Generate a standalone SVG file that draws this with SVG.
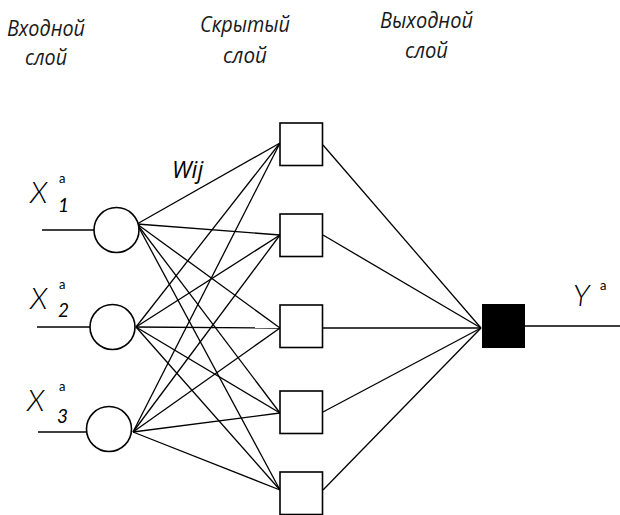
<svg xmlns="http://www.w3.org/2000/svg" width="620" height="515" viewBox="0 0 620 515">
<style>
.hdr{font-family:"Open Sans","Noto Sans",sans-serif;font-style:italic;font-size:21px;fill:#1a1a1a}
.var{font-family:"Lato","DejaVu Sans",sans-serif;font-weight:300;font-style:italic;font-size:30px;fill:#000}
.sup{font-family:"Lato","Liberation Sans",sans-serif;font-weight:400;font-size:13px;fill:#000}
.sub{font-family:"Lato","Liberation Sans",sans-serif;font-weight:400;font-style:italic;font-size:19px;fill:#000}
.wij{font-family:"Open Sans","Noto Sans",sans-serif;font-style:italic;font-size:23px;fill:#000}
.c{stroke:#000;stroke-width:1.3;fill:none}
.in{fill:#fff;stroke:#000;stroke-width:1.6}
.hid{fill:#fff;stroke:#000;stroke-width:1.6}
</style>
<rect width="620" height="515" fill="#fff"/>
<g id="headers">
<text class="hdr" x="7" y="36" textLength="78" lengthAdjust="spacingAndGlyphs">Входной</text>
<text class="hdr" x="25" y="65" textLength="42" lengthAdjust="spacingAndGlyphs">слой</text>
<text class="hdr" x="200" y="32" textLength="90" lengthAdjust="spacingAndGlyphs">Скрытый</text>
<text class="hdr" x="223" y="63" textLength="44" lengthAdjust="spacingAndGlyphs">слой</text>
<text class="hdr" x="380" y="28" textLength="93" lengthAdjust="spacingAndGlyphs">Выходной</text>
<text class="hdr" x="405" y="58" textLength="43" lengthAdjust="spacingAndGlyphs">слой</text>
</g>
<g id="connectors">
<line class="c" x1="42" y1="230" x2="94" y2="230"/>
<line class="c" x1="37" y1="327" x2="90" y2="327"/>
<line class="c" x1="38" y1="432" x2="87" y2="432"/>
<g id="input-hidden">
<line class="c" x1="137" y1="224" x2="280" y2="143"/>
<line class="c" x1="137" y1="224" x2="280" y2="235"/>
<line class="c" x1="137" y1="224" x2="280" y2="328"/>
<line class="c" x1="137" y1="224" x2="280" y2="413"/>
<line class="c" x1="137" y1="224" x2="280" y2="490"/>
<line class="c" x1="136" y1="327" x2="280" y2="143"/>
<line class="c" x1="136" y1="327" x2="280" y2="235"/>
<line class="c" x1="136" y1="327" x2="280" y2="328"/>
<line class="c" x1="136" y1="327" x2="280" y2="413"/>
<line class="c" x1="136" y1="327" x2="280" y2="490"/>
<line class="c" x1="133" y1="432" x2="280" y2="143"/>
<line class="c" x1="133" y1="432" x2="280" y2="235"/>
<line class="c" x1="133" y1="432" x2="280" y2="328"/>
<line class="c" x1="133" y1="432" x2="280" y2="413"/>
<line class="c" x1="133" y1="432" x2="280" y2="490"/>
</g>
<g id="hidden-output">
<line class="c" x1="323" y1="145" x2="481" y2="328"/>
<line class="c" x1="323" y1="235" x2="481" y2="328"/>
<line class="c" x1="323" y1="328" x2="481" y2="328"/>
<line class="c" x1="323" y1="412" x2="481" y2="328"/>
<line class="c" x1="323" y1="490" x2="481" y2="328"/>
</g>
<line class="c" x1="525" y1="326" x2="620" y2="326"/>
</g>
<g id="x1">
<circle class="in" cx="116.5" cy="230" r="22.5"/>
<text class="var" x="30" y="203">X</text>
<text class="sup" x="59" y="183">a</text>
<text class="sub" x="58" y="212">1</text>
</g>
<g id="x2">
<circle class="in" cx="112.5" cy="327" r="22.5"/>
<text class="var" x="30" y="309">X</text>
<text class="sup" x="59" y="289">a</text>
<text class="sub" x="58" y="317">2</text>
</g>
<g id="x3">
<circle class="in" cx="109" cy="429" r="22.5"/>
<text class="var" x="27" y="411">X</text>
<text class="sup" x="59" y="391">a</text>
<text class="sub" x="57" y="423">3</text>
</g>
<g id="h1"><rect class="hid" x="280" y="123" width="42.5" height="42.5"/></g>
<g id="h2"><rect class="hid" x="280" y="214" width="42.5" height="42.5"/></g>
<g id="h3"><rect class="hid" x="280" y="305" width="42.5" height="42.5"/></g>
<g id="h4"><rect class="hid" x="280" y="391" width="42.5" height="42.5"/></g>
<g id="h5"><rect class="hid" x="280" y="472" width="42.5" height="42.5"/></g>
<g id="out">
<rect x="482" y="304" width="43" height="44" fill="#000"/>
<text class="var" x="573" y="306">Y</text>
<text class="sup" x="600" y="290">a</text>
</g>
<text class="wij" x="172" y="178">Wij</text>
</svg>
